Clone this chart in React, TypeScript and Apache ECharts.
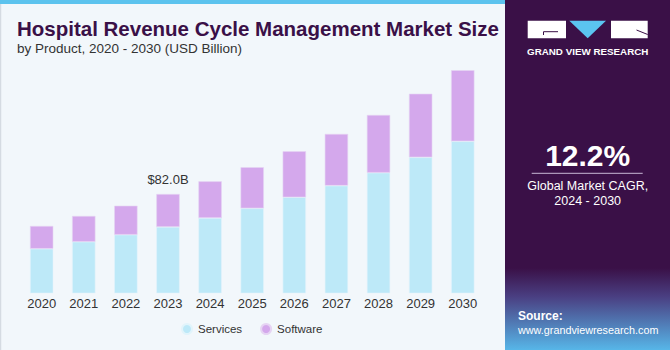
import React, { useEffect, useRef } from "react";
import * as echarts from "echarts";

const years = ["2020", "2021", "2022", "2023", "2024", "2025", "2026", "2027", "2028", "2029", "2030"];
const services = [36.8, 42.6, 48.4, 54.8, 62.2, 70.2, 79.3, 88.9, 99.6, 112.3, 125.5];
const software = [18.8, 21.2, 23.9, 27.2, 30.3, 33.9, 38.0, 42.7, 47.6, 52.5, 58.7];
const seriesNames = ["Services", "Software"];
const highlightIndex = 3;
const highlightLabel = "$82.0B";
const titleText = "Hospital Revenue Cycle Management Market Size";
const subtitleText = "by Product, 2020 - 2030 (USD Billion)";
const cagrValue = "12.2%";
const cagrLine1 = "Global Market CAGR,";
const cagrLine2 = "2024 - 2030";

const PURPLE = "#3a1047";
const FONT = "Liberation Sans, Arial, sans-serif";

export default function App() {
  const ref = useRef<HTMLDivElement>(null);
  useEffect(() => {
    if (!ref.current) return;
    const chart = echarts.init(ref.current, null, { renderer: "svg" });
    const softwareData = software.map((v, i) =>
      i === highlightIndex
        ? {
            value: v,
            label: {
              show: true,
              position: "top",
              distance: 8,
              formatter: highlightLabel,
              fontSize: 13,
              color: "#333",
              fontFamily: FONT,
            },
          }
        : v
    );
    chart.setOption({
      animation: false,
      backgroundColor: "#f2f7fb",
      grid: { left: 20.6, right: 186.2, top: 51.1, bottom: 56.7 },
      xAxis: {
        type: "category",
        data: years,
        axisLine: { show: false },
        axisTick: { show: false },
        axisLabel: { margin: 4, fontSize: 13, color: "#333", fontFamily: FONT },
      },
      yAxis: { type: "value", min: 0, max: 200, show: false, splitLine: { show: false } },
      legend: {
        data: seriesNames,
        left: 176,
        top: 318,
        icon: "circle",
        itemWidth: 10,
        itemHeight: 10,
        itemGap: 18,
        textStyle: { fontSize: 11.5, color: "#333", fontFamily: FONT, padding: [0, 0, 0, 1] },
      },
      series: [
        {
          name: seriesNames[0],
          type: "bar",
          stack: "total",
          barWidth: 23.3,
          data: services,
          itemStyle: { color: "#bde9f8", borderColor: "#e2f4fb", borderWidth: 0.6 },
        },
        {
          name: seriesNames[1],
          type: "bar",
          stack: "total",
          barWidth: 23.3,
          data: softwareData,
          itemStyle: { color: "#d4a8ec", borderColor: "#e6d4f3", borderWidth: 0.6 },
        },
      ],
      graphic: [
        { type: "rect", shape: { x: 0, y: 0, width: 505, height: 4 }, style: { fill: "#5cc3ee" }, silent: true },
        { type: "line", shape: { x1: 0.5, y1: 4, x2: 0.5, y2: 350 }, style: { stroke: "#d5dbe2", lineWidth: 1.5 } },
        { type: "rect", shape: { x: 505, y: 0, width: 165, height: 350 }, style: { fill: PURPLE } },
        {
          type: "rect",
          shape: { x: 505, y: 268, width: 165, height: 82 },
          style: {
            fill: new echarts.graphic.LinearGradient(0, 0, 0, 1, [
              { offset: 0, color: PURPLE },
              { offset: 0.35, color: "#4a3f82" },
              { offset: 1, color: "#57b6e8" },
            ]),
          },
        },
        {
          type: "text",
          left: 17,
          top: 18,
          style: { text: titleText, fontSize: 20.5, fontWeight: "bold", fill: PURPLE, fontFamily: FONT },
        },
        {
          type: "text",
          left: 17,
          top: 41.5,
          style: { text: subtitleText, fontSize: 13.5, fill: "#333", fontFamily: FONT },
        },
        // logo
        { type: "rect", shape: { x: 527.7, y: 20.7, width: 38.3, height: 17.6 }, style: { fill: "#ffffff" } },
        {
          type: "polyline",
          shape: { points: [[558, 31.7], [543.5, 31.7], [543.5, 35]] },
          style: { stroke: PURPLE, lineWidth: 1, fill: "none" },
        },
        {
          type: "polygon",
          shape: { points: [[569.3, 20.7], [606, 20.7], [587.7, 38.3]] },
          style: { fill: "#5bc4f0" },
        },
        { type: "rect", shape: { x: 611, y: 20.7, width: 36.7, height: 17.6 }, style: { fill: "#ffffff" } },
        {
          type: "line",
          shape: { x1: 636.5, y1: 30, x2: 647.7, y2: 34.5 },
          style: { stroke: PURPLE, lineWidth: 1 },
        },
        {
          type: "text",
          x: 587.7,
          y: 51,
          style: {
            text: "GRAND VIEW RESEARCH",
            fontSize: 9.8,
            fontWeight: "bold",
            fill: "#ffffff",
            align: "center",
            verticalAlign: "middle",
            fontFamily: FONT,
          },
        },
        {
          type: "text",
          x: 587.7,
          y: 155,
          style: {
            text: cagrValue,
            fontSize: 30,
            fontWeight: "bold",
            fill: "#ffffff",
            align: "center",
            verticalAlign: "middle",
            fontFamily: FONT,
          },
        },
        {
          type: "line",
          shape: { x1: 531.7, y1: 173.3, x2: 642.7, y2: 173.3 },
          style: { stroke: "#c9b8d6", lineWidth: 1 },
        },
        {
          type: "text",
          x: 587.7,
          y: 186,
          style: {
            text: cagrLine1,
            fontSize: 12.5,
            fill: "#ffffff",
            align: "center",
            verticalAlign: "middle",
            fontFamily: FONT,
          },
        },
        {
          type: "text",
          x: 587.7,
          y: 201,
          style: {
            text: cagrLine2,
            fontSize: 12.5,
            fill: "#ffffff",
            align: "center",
            verticalAlign: "middle",
            fontFamily: FONT,
          },
        },
        {
          type: "text",
          x: 518,
          y: 316,
          style: {
            text: "Source:",
            fontSize: 12,
            fontWeight: "bold",
            fill: "#ffffff",
            verticalAlign: "middle",
            fontFamily: FONT,
          },
        },
        {
          type: "text",
          x: 518,
          y: 329.5,
          style: {
            text: "www.grandviewresearch.com",
            fontSize: 10.8,
            fill: "#ffffff",
            verticalAlign: "middle",
            fontFamily: FONT,
          },
        },
      ],
    });
    return () => chart.dispose();
  }, []);
  return <div ref={ref} style={{ position: "absolute", left: 0, top: 0, width: 670, height: 350 }} />;
}
